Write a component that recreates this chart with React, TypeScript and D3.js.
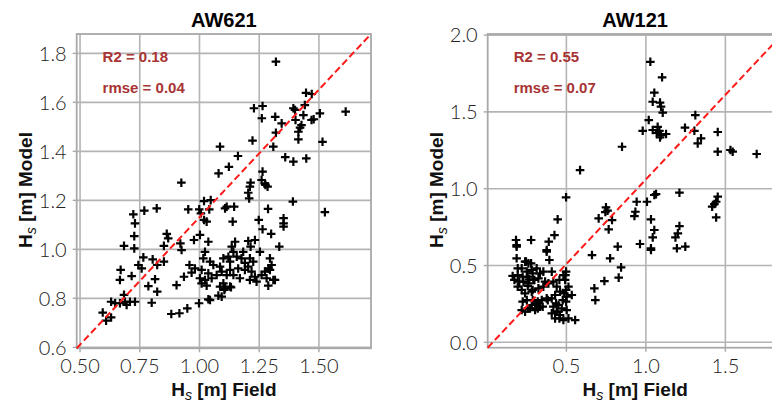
import React from "react";
import * as d3 from "d3";

// AW621 station: [field Hs, model Hs] in metres
const aw621: [number, number][] = [
  [1.320, 1.766], [1.228, 1.576], [1.264, 1.585], [1.261, 1.535], [1.317, 1.541], [1.344, 1.514],
  [1.320, 1.476], [1.309, 1.419], [1.222, 1.444], [1.086, 1.419], [1.161, 1.381], [1.123, 1.337],
  [1.080, 1.310], [0.924, 1.272], [1.446, 1.639], [1.470, 1.634], [1.393, 1.576], [1.400, 1.569],
  [1.441, 1.589], [1.435, 1.548], [1.478, 1.531], [1.469, 1.528], [1.504, 1.555], [1.612, 1.562],
  [1.402, 1.528], [1.421, 1.497], [1.427, 1.507], [1.414, 1.480], [1.414, 1.449], [1.515, 1.439],
  [1.359, 1.376], [1.393, 1.358], [1.447, 1.371], [1.525, 1.152], [1.391, 1.195], [1.352, 1.127],
  [1.352, 1.106], [1.352, 1.093], [1.334, 1.011], [1.300, 1.063], [1.287, 1.165], [1.264, 1.317],
  [1.260, 1.283], [1.276, 1.263], [1.285, 1.256], [1.274, 1.269], [1.214, 1.272], [1.211, 1.256],
  [1.204, 1.231], [1.208, 1.208], [1.248, 1.120], [1.264, 1.082], [1.139, 1.113], [1.145, 1.174],
  [1.107, 1.167], [1.114, 1.174], [1.047, 1.201], [1.019, 1.197], [1.041, 1.163], [0.999, 1.163],
  [0.953, 1.163], [1.006, 1.147], [1.019, 1.120], [1.030, 1.113], [1.002, 1.059], [0.977, 1.038],
  [1.037, 1.031], [0.863, 1.063], [0.869, 1.045], [0.851, 1.014], [0.920, 1.024], [0.925, 0.997],
  [0.769, 1.158], [0.821, 1.167], [0.723, 1.143], [0.730, 1.106], [0.727, 1.054], [0.684, 1.014],
  [0.727, 1.004], [0.765, 0.967], [0.804, 0.959], [0.851, 0.950], [0.823, 0.936], [0.744, 0.936],
  [0.758, 0.922], [0.670, 0.916], [0.716, 0.891], [0.667, 0.875], [0.814, 0.878], [0.786, 0.850],
  [0.823, 0.827], [0.684, 0.814], [0.688, 0.786], [0.630, 0.786], [0.647, 0.780], [0.667, 0.780],
  [0.709, 0.786], [0.730, 0.786], [0.695, 0.773], [0.800, 0.782], [0.595, 0.742], [0.609, 0.709],
  [0.630, 0.722], [0.882, 0.736], [0.916, 0.739], [0.949, 0.759], [0.998, 0.780], [1.037, 0.796],
  [1.079, 0.811], [1.093, 0.807], [1.104, 0.834], [1.132, 0.845], [0.904, 0.854], [0.935, 0.888],
  [0.967, 0.905], [0.981, 0.922], [0.958, 0.936],
  [1.149, 1.031], [1.204, 1.034], [1.232, 1.038], [1.214, 1.011], [1.253, 0.990], [1.135, 1.011],
  [1.142, 0.990], [1.121, 0.970], [1.156, 0.970], [1.100, 0.963], [1.128, 0.950], [1.176, 0.963],
  [1.211, 0.963], [1.023, 0.990], [1.016, 0.963], [1.044, 0.950], [1.058, 0.936], [1.086, 0.929],
  [1.037, 0.902], [1.009, 0.916], [1.002, 0.882], [1.023, 0.875], [1.009, 0.861], [1.030, 0.852],
  [1.051, 0.882], [1.072, 0.895], [1.093, 0.909], [1.114, 0.895], [1.128, 0.916], [1.142, 0.895],
  [1.162, 0.922], [1.169, 0.882], [1.190, 0.916], [1.204, 0.929], [1.218, 0.909], [1.232, 0.888],
  [1.211, 0.875], [1.239, 0.868], [1.260, 0.895], [1.274, 0.909], [1.288, 0.922], [1.295, 0.963],
  [1.302, 0.936], [1.281, 0.882], [1.288, 0.852], [1.316, 0.875], [1.100, 0.861], [1.086, 0.848],
  [1.128, 0.848], [1.044, 0.793], [1.295, 0.916], [1.309, 0.875], [1.107, 0.841], [1.183, 0.990],
  [1.225, 0.950], [1.190, 0.945],
];

// AW121 station: [field Hs, model Hs] in metres
const aw121: [number, number][] = [
  [1.028, 1.826], [1.102, 1.725], [1.053, 1.625], [1.043, 1.566], [1.089, 1.560], [1.095, 1.534],
  [1.106, 1.495], [1.018, 1.447], [0.980, 1.377], [1.043, 1.382], [1.074, 1.403], [1.085, 1.377],
  [1.068, 1.364], [1.095, 1.349], [1.127, 1.356], [1.089, 1.334], [0.850, 1.273], [0.586, 1.121],
  [1.311, 1.479], [1.246, 1.397], [1.305, 1.377], [1.347, 1.328], [1.326, 1.295], [1.452, 1.369],
  [1.452, 1.241], [1.532, 1.252], [1.546, 1.241], [1.697, 1.226], [1.211, 0.974], [1.053, 0.959],
  [1.064, 0.965], [0.942, 0.915], [1.007, 0.915], [0.934, 0.850], [0.928, 0.822], [1.032, 0.800],
  [1.053, 0.731], [1.043, 0.683], [1.032, 0.612], [1.032, 0.601], [0.963, 0.640], [1.211, 0.757],
  [1.201, 0.709], [1.186, 0.683], [1.195, 0.612], [1.248, 0.623], [1.452, 0.948], [1.442, 0.915],
  [1.431, 0.900], [1.417, 0.883], [1.442, 0.813], [0.749, 0.879], [0.759, 0.857], [0.745, 0.848],
  [0.703, 0.807], [0.787, 0.796], [0.766, 0.735], [0.823, 0.623], [0.661, 0.568], [0.775, 0.547],
  [0.844, 0.488], [0.829, 0.421], [0.739, 0.399], [0.676, 0.351], [0.682, 0.275], [0.498, 0.944],
  [0.445, 0.800], [0.425, 0.698], [0.389, 0.655], [0.376, 0.601], [0.393, 0.536], [0.278, 0.666],
  [0.183, 0.666], [0.187, 0.633], [0.187, 0.623], [0.187, 0.547], [0.246, 0.525], [0.278, 0.514],
  [0.194, 0.482],
  [0.376, 0.590], [0.240, 0.525], [0.261, 0.514], [0.219, 0.482], [0.251, 0.460], [0.282, 0.471],
  [0.313, 0.482], [0.334, 0.449], [0.355, 0.460], [0.408, 0.460], [0.481, 0.438], [0.492, 0.406],
  [0.230, 0.395], [0.261, 0.384], [0.292, 0.406], [0.324, 0.416], [0.366, 0.395], [0.387, 0.384],
  [0.219, 0.341], [0.240, 0.319], [0.282, 0.330], [0.324, 0.351], [0.355, 0.362], [0.418, 0.395],
  [0.439, 0.362], [0.460, 0.330], [0.513, 0.362], [0.534, 0.308], [0.502, 0.297], [0.408, 0.286],
  [0.429, 0.308], [0.251, 0.275], [0.282, 0.243], [0.313, 0.254], [0.345, 0.275], [0.376, 0.286],
  [0.219, 0.210], [0.240, 0.200], [0.271, 0.221], [0.303, 0.210], [0.334, 0.232], [0.418, 0.232],
  [0.450, 0.243], [0.471, 0.221], [0.502, 0.210], [0.439, 0.200], [0.429, 0.156], [0.481, 0.145],
  [0.513, 0.156], [0.555, 0.145], [0.408, 0.189], [0.460, 0.178],
  [0.162, 0.432], [0.194, 0.438], [0.225, 0.427], [0.257, 0.427], [0.288, 0.449], [0.173, 0.406],
  [0.204, 0.395], [0.267, 0.410], [0.299, 0.406], [0.194, 0.362], [0.257, 0.367], [0.288, 0.341],
  [0.225, 0.265], [0.288, 0.275], [0.320, 0.265], [0.383, 0.275], [0.257, 0.221], [0.320, 0.221],
  [0.351, 0.232], [0.445, 0.200], [0.456, 0.156], [0.487, 0.319], [0.498, 0.341], [0.477, 0.275],
  [0.498, 0.265], [0.435, 0.254], [0.456, 0.406], [0.494, 0.438], [0.498, 0.460],
];

const titles = ["AW621", "AW121"];
const r2Labels = ["R2 = 0.18", "R2 = 0.55"];
const rmseLabels = ["rmse = 0.04", "rmse = 0.07"];

const aw621XTicks = [0.5, 0.75, 1.0, 1.25, 1.5];
const aw621YTicks = [0.6, 0.8, 1.0, 1.2, 1.4, 1.6, 1.8];
const aw121XTicks = [0.5, 1.0, 1.5];
const aw121YTicks = [0.0, 0.5, 1.0, 1.5, 2.0];

const W = 772;
const H = 402;

const TICK_FONT = "Lato, 'Liberation Sans', sans-serif";
const LABEL_FONT = "'Liberation Sans', Arial, sans-serif";
const GRID = "#b4b4b4";
const FRAME = "#a8a8a8";
const ANNOT = "#a83434";

type PanelSpec = {
  title: string;
  r2: string;
  rmse: string;
  data: [number, number][];
  left: number;
  right: number;
  top: number;
  bottom: number;
  xDomain: [number, number];
  yDomain: [number, number];
  xTicks: number[];
  yTicks: number[];
  xFmt: string;
  yFmt: string;
};

const panels: PanelSpec[] = [
  {
    title: titles[0], r2: r2Labels[0], rmse: rmseLabels[0], data: aw621,
    left: 76.7, right: 371, top: 34, bottom: 348.3,
    xDomain: [0.486, 1.718], yDomain: [0.596, 1.879],
    xTicks: aw621XTicks, yTicks: aw621YTicks, xFmt: ".2f", yFmt: ".1f",
  },
  {
    title: titles[1], r2: r2Labels[1], rmse: rmseLabels[1], data: aw121,
    left: 487.7, right: 782.6, top: 34, bottom: 347.7,
    xDomain: [0.005, 1.86], yDomain: [-0.035, 2.007],
    xTicks: aw121XTicks, yTicks: aw121YTicks, xFmt: ".1f", yFmt: ".1f",
  },
];

function HsLabel({ rest }: { rest: string }) {
  return (
    <>
      <tspan>H</tspan>
      <tspan fontStyle="italic" fontWeight="normal" fontSize="0.75em" dy="4">s</tspan>
      <tspan dy="-4">{rest}</tspan>
    </>
  );
}

function Panel({ p }: { p: PanelSpec }) {
  const x = d3.scaleLinear().domain(p.xDomain).range([p.left, p.right]);
  const y = d3.scaleLinear().domain(p.yDomain).range([p.bottom, p.top]);
  const fx = d3.format(p.xFmt);
  const fy = d3.format(p.yFmt);
  const cx = (p.left + p.right) / 2;
  const diag = d3.line<[number, number]>().x((d) => x(d[0])).y((d) => y(d[1]))([
    [p.xDomain[0], p.yDomain[0]],
    [p.xDomain[1], p.yDomain[1]],
  ]);
  const plus = "M-4.3,0H4.3M0,-4.3V4.3";
  const ax = p.left + (p.right - p.left) * 0.088;

  return (
    <g>
      {/* grid */}
      {p.xTicks.map((t) => (
        <line key={"gx" + t} x1={x(t)} x2={x(t)} y1={p.top} y2={p.bottom} stroke={GRID} strokeWidth={1.6} />
      ))}
      {p.yTicks.map((t) => (
        <line key={"gy" + t} x1={p.left} x2={p.right} y1={y(t)} y2={y(t)} stroke={GRID} strokeWidth={1.6} />
      ))}
      {/* frame */}
      <rect x={p.left} y={p.top} width={p.right - p.left} height={p.bottom - p.top} fill="none" stroke={FRAME} strokeWidth={1.8} />
      {/* ticks */}
      {p.xTicks.map((t) => (
        <g key={"tx" + t}>
          <line x1={x(t)} x2={x(t)} y1={p.bottom} y2={p.bottom + 4} stroke={FRAME} strokeWidth={1.4} />
          <text x={x(t)} y={p.bottom + 25} textAnchor="middle" fontFamily={TICK_FONT} fontSize={20} fontWeight={300} fill="#222">
            {fx(t)}
          </text>
        </g>
      ))}
      {p.yTicks.map((t) => (
        <g key={"ty" + t}>
          <line x1={p.left - 4} x2={p.left} y1={y(t)} y2={y(t)} stroke={FRAME} strokeWidth={1.4} />
          <text x={p.left - 10} y={y(t)} dy="0.36em" textAnchor="end" fontFamily={TICK_FONT} fontSize={20} fontWeight={300} fill="#222">
            {fy(t)}
          </text>
        </g>
      ))}
      {/* points */}
      {p.data.map((d, i) => (
        <path key={i} d={plus} transform={`translate(${x(d[0])},${y(d[1])})`} stroke="#000" strokeWidth={2.2} fill="none" />
      ))}
      {/* 1:1 reference across the axes box */}
      <path d={diag ?? ""} stroke="#ff1a1a" strokeWidth={2} strokeDasharray="7,3.5" fill="none" />
      {/* stats */}
      <g fontFamily={LABEL_FONT} fontSize={15} fontWeight="bold" fill={ANNOT}>
        <text x={ax} y={p.top + 23} dy="0.36em">{p.r2}</text>
        <text x={ax} y={p.top + 54} dy="0.36em">{p.rmse}</text>
      </g>
      {/* title and axis labels */}
      <g fontFamily={LABEL_FONT} fontWeight="bold">
        <text x={cx} y={27} textAnchor="middle" fontSize={20} fill="#000">{p.title}</text>
        <text x={cx} y={396} textAnchor="middle" fontSize={19} fill="#111">
          <HsLabel rest=" [m] Field" />
        </text>
        <text
          transform={`translate(${p.left - 45},190) rotate(-90)`}
          textAnchor="middle"
          fontSize={19}
          fill="#111"
        >
          <HsLabel rest=" [m] Model" />
        </text>
      </g>
    </g>
  );
}

export default function App() {
  return (
    <svg
      width={W}
      height={H}
      viewBox={`0 0 ${W} ${H}`}
      style={{ position: "absolute", left: 0, top: 0, background: "#fff", overflow: "hidden" }}
    >
      <rect width={W} height={H} fill="#fff" />
      {panels.map((p) => (
        <Panel key={p.title} p={p} />
      ))}
    </svg>
  );
}
